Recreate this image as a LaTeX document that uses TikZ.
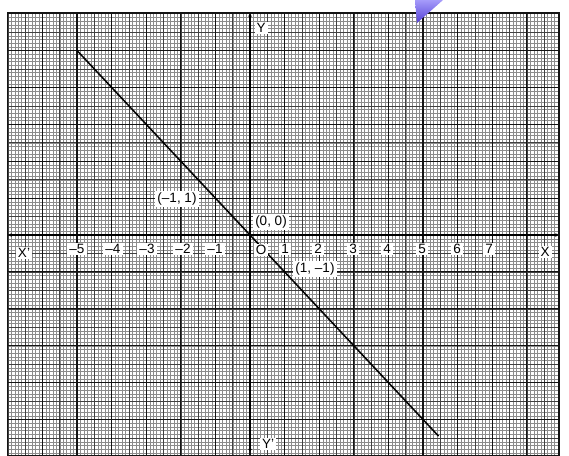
\documentclass[tikz,border=0pt]{standalone}
\usepackage{fontspec}
\setmainfont{Liberation Sans}
\usetikzlibrary{arrows.meta}
\begin{document}
\begin{tikzpicture}[x=1pt,y=-1pt,
  lbl/.style={fill=white,inner xsep=2pt,inner ysep=1.5pt,font=\fontsize{13.5}{15}\selectfont},
  minorgrid/.style={black!45,line width=0.3pt},
  midgrid/.style={black!75,line width=0.55pt},
  majorgrid/.style={black!92,line width=1.05pt},
  axisline/.style={black,line width=1.2pt,{Circle[length=3pt]}-{Circle[length=3pt]}},
  graphline/.style={black,line width=1.5pt}]
\useasboundingbox (0,0) rectangle (569,455);
\begin{scope}[shift={(250,235)},x=34.6pt,y=36.9pt]
  \begin{scope}
    \clip (-7.02,-5.97) rectangle (8.93,6.02);
    \draw[minorgrid,xstep=0.1,ystep=0.1] (-7.1,-6.1) grid (9,6.1);
    \draw[midgrid,xstep=0.5,ystep=0.5] (-7.1,-6.1) grid (9,6.1);
    \draw[majorgrid,xstep=1,ystep=1] (-7.1,-6.1) grid (9,6.1);
  \end{scope}
  \draw[majorgrid] (-7.02,-5.97) rectangle (8.93,6.02);
  \coordinate (xl) at (-6.95,0);
  \coordinate (xr) at (8.88,0);
  \coordinate (yt) at (0,5.97);
  \coordinate (yb) at (0,-5.85);
  \draw[axisline] (xl) -- (xr);
  \draw[axisline] (yt) -- (yb);
  \coordinate (A) at (-5,5);
  \coordinate (B) at (5.45,-5.45);
  \draw[graphline] (A) -- (B);
\end{scope}
% labels
\node[lbl] (lm11) at (177,199) {(\textendash1, 1)};
\node[lbl] (l00) at (271,222) {(0, 0)};
\node[lbl] (l1m1) at (315,269) {(1, \textendash1)};
\node[lbl] (lO) at (261,250) {O};
\node[lbl] (lXp) at (24,253) {X'};
\node[lbl] (lX) at (545,252) {X};
\node[lbl] (lY) at (261,28) {Y};
\node[lbl] (lYp) at (268,444) {Y'};
\node[lbl] (n5) at (77,249) {\textendash5};
\node[lbl] (n4) at (113,249) {\textendash4};
\node[lbl] (n3) at (147,249) {\textendash3};
\node[lbl] (n2) at (183,249) {\textendash2};
\node[lbl] (n1) at (215,249) {\textendash1};
\node[lbl] (p1) at (285,249) {1};
\node[lbl] (p2) at (318,249) {2};
\node[lbl] (p3) at (353,249) {3};
\node[lbl] (p4) at (387,249) {4};
\node[lbl] (p5) at (422,249) {5};
\node[lbl] (p6) at (457,249) {6};
\node[lbl] (p7) at (489,249) {7};
% pointer artefact
\shade[top color={rgb,255:red,165;green,155;blue,250},bottom color={rgb,255:red,85;green,65;blue,215}]
  (415,0) -- (443,0) -- (417,23) -- cycle;
\end{tikzpicture}
\end{document}
